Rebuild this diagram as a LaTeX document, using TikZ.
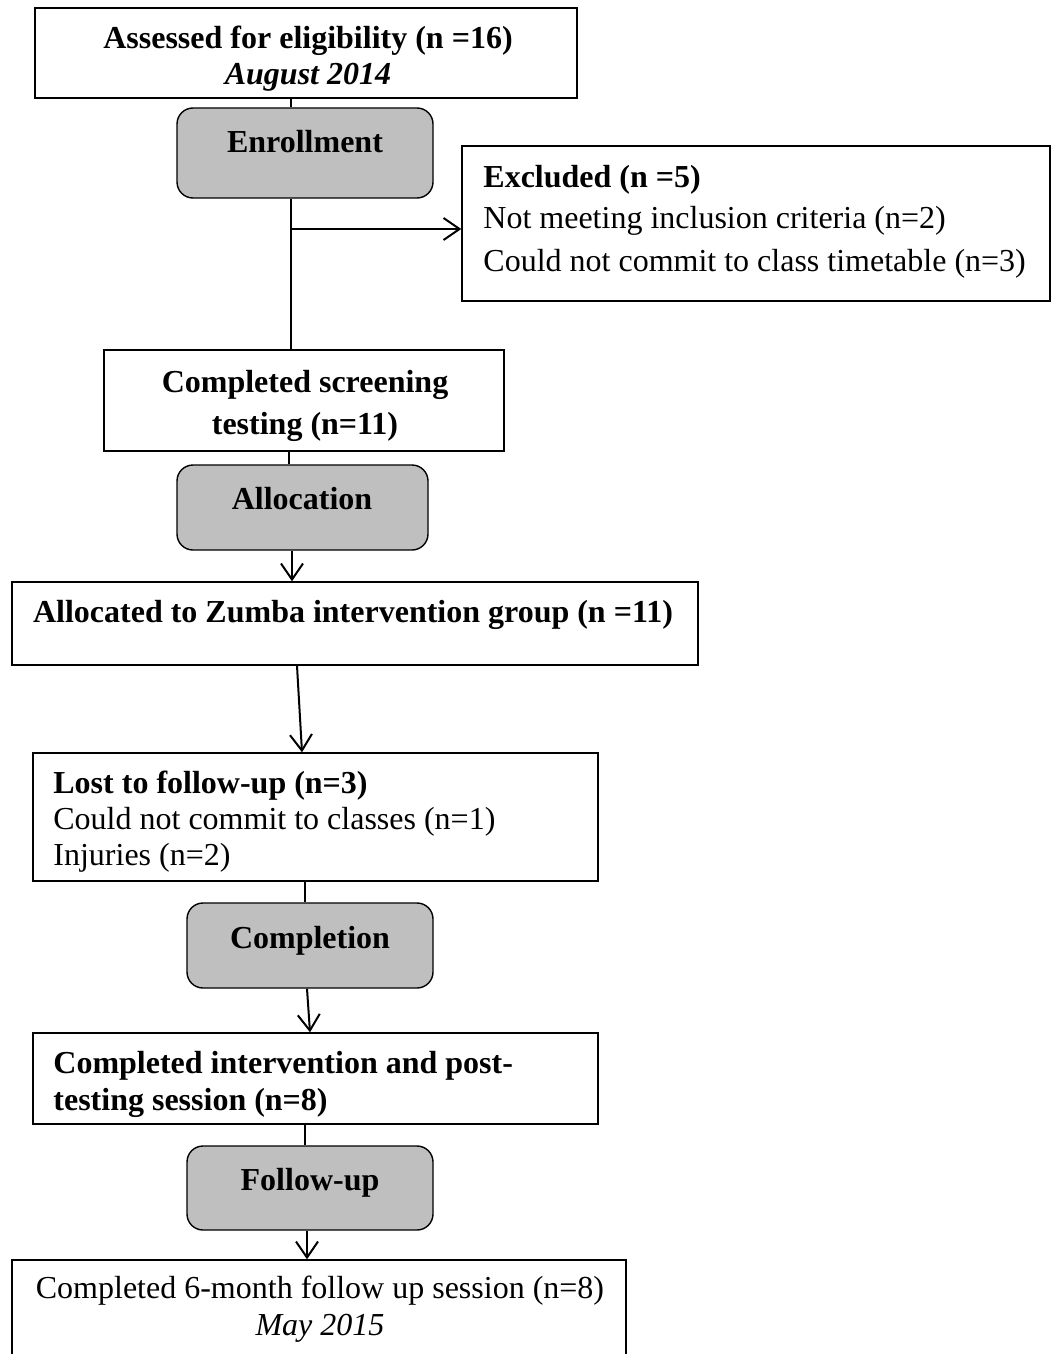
\documentclass[tikz,border=0pt]{standalone}
\usepackage{fontspec}
\setmainfont{Liberation Serif}
\usetikzlibrary{arrows.meta}

\definecolor{stagegray}{HTML}{BFBFBF}

\begin{document}
\begin{tikzpicture}[x=0.5pt, y=-0.5pt,
    every node/.style = {font=\fontsize{16pt}{19pt}\selectfont},
    boxed/.style = {draw, line width=0.7pt, rectangle, inner sep=0pt},
    stage/.style = {draw, line width=0.7pt, rectangle, rounded corners=8pt,
                    fill=stagegray, inner sep=0pt, minimum width=123pt},
    txt/.style = {anchor=base, inner sep=0pt},
    txtl/.style = {anchor=base west, inner sep=0pt},
    flow/.style = {line width=1pt},
    flowarrow/.style = {line width=1pt, -{Straight Barb[length=8pt, width=11pt, line width=1pt]}}]

      \useasboundingbox (0,0) rectangle (1057,1354);

      % boxes
      \node[boxed, minimum width=271pt, minimum height=45pt] (assess) at (306,53) {};
      \node[stage, minimum width=128pt, minimum height=45pt] (enroll) at (305,153) {};
      \node[boxed, minimum width=294pt, minimum height=77.5pt] (excl) at (756,223.5) {};
      \node[boxed, minimum width=200pt, minimum height=50.5pt] (screen) at (304,400.5) {};
      \node[stage, minimum width=125.5pt, minimum height=42.5pt] (alloc) at (302.5,507.5) {};
      \node[boxed, minimum width=343pt, minimum height=41.5pt] (zumba) at (355,623.5) {};
      \node[boxed, minimum width=282.5pt, minimum height=64pt] (lost) at (315.5,817) {};
      \node[stage, minimum height=42.5pt] (compl) at (310,945.5) {};
      \node[boxed, minimum width=282.5pt, minimum height=45.5pt] (intv) at (315.5,1078.5) {};
      \node[stage, minimum height=42pt] (follow) at (310,1188) {};
      \node[boxed, minimum width=307pt, minimum height=60pt] (final) at (319,1320) {};

      % connectors
      \coordinate (split) at (291,229);
      \draw[flow] (assess.south -| split) -- (enroll.north -| split);
      \draw[flow] (enroll.south -| split) -- (screen.north -| split);
      \draw[flowarrow] (split) -- (excl.west |- split);
      \draw[flow] ([xshift=-7.5pt]screen.south) -- ([xshift=-6.75pt]alloc.north);
      \draw[flowarrow] ([xshift=-5.25pt]alloc.south) -- ([xshift=-31.5pt]zumba.north);
      \draw[flowarrow] ([xshift=-29pt]zumba.south) -- ([xshift=-6.75pt]lost.north);
      \draw[flow] ([xshift=-5.25pt]lost.south) -- ([xshift=-2.5pt]compl.north);
      \draw[flowarrow] ([xshift=-1.5pt]compl.south) -- ([xshift=-2.75pt]intv.north);
      \draw[flow] ([xshift=-5.25pt]intv.south) -- ([xshift=-2.5pt]follow.north);
      \draw[flowarrow] ([xshift=-1.5pt]follow.south) -- ([xshift=-6pt]final.north);

      % texts
      \node[txt] (t0) at (308,49) {\textbf{Assessed for eligibility (n =16)}};
      \node[txt] (t1) at (308,85) {\textit{\textbf{August 2014}}};
      \node[txt] (t2) at (305,152) {\textbf{Enrollment}};
      \node[txtl] (t3) at (483,187) {\textbf{Excluded (n =5)}};
      \node[txtl] (t4) at (483,228) {Not meeting inclusion criteria (n=2)};
      \node[txtl] (t5) at (483,271) {Could not commit to class timetable (n=3)};
      \node[txt] (t6) at (305,392) {\textbf{Completed screening}};
      \node[txt] (t7) at (305,434) {\textbf{testing (n=11)}};
      \node[txt] (t8) at (302,509) {\textbf{Allocation}};
      \node[txt] (t9) at (353,622) {\textbf{Allocated to Zumba intervention group (n =11)}};
      \node[txtl] (t10) at (53,793) {\textbf{Lost to follow-up (n=3)}};
      \node[txtl] (t11) at (53,829) {Could not commit to classes (n=1)};
      \node[txtl] (t12) at (53,865) {Injuries (n=2)};
      \node[txt] (t13) at (310,948) {\textbf{Completion}};
      \node[txtl] (t14) at (53,1073) {\textbf{Completed intervention and post-}};
      \node[txtl] (t15) at (53,1110) {\textbf{testing session (n=8)}};
      \node[txt] (t16) at (310,1190) {\textbf{Follow-up}};
      \node[txt] (t17) at (320,1298) {Completed 6-month follow up session (n=8)};
      \node[txt] (t18) at (320,1335) {\textit{May 2015}};
    \end{tikzpicture}
\end{document}
